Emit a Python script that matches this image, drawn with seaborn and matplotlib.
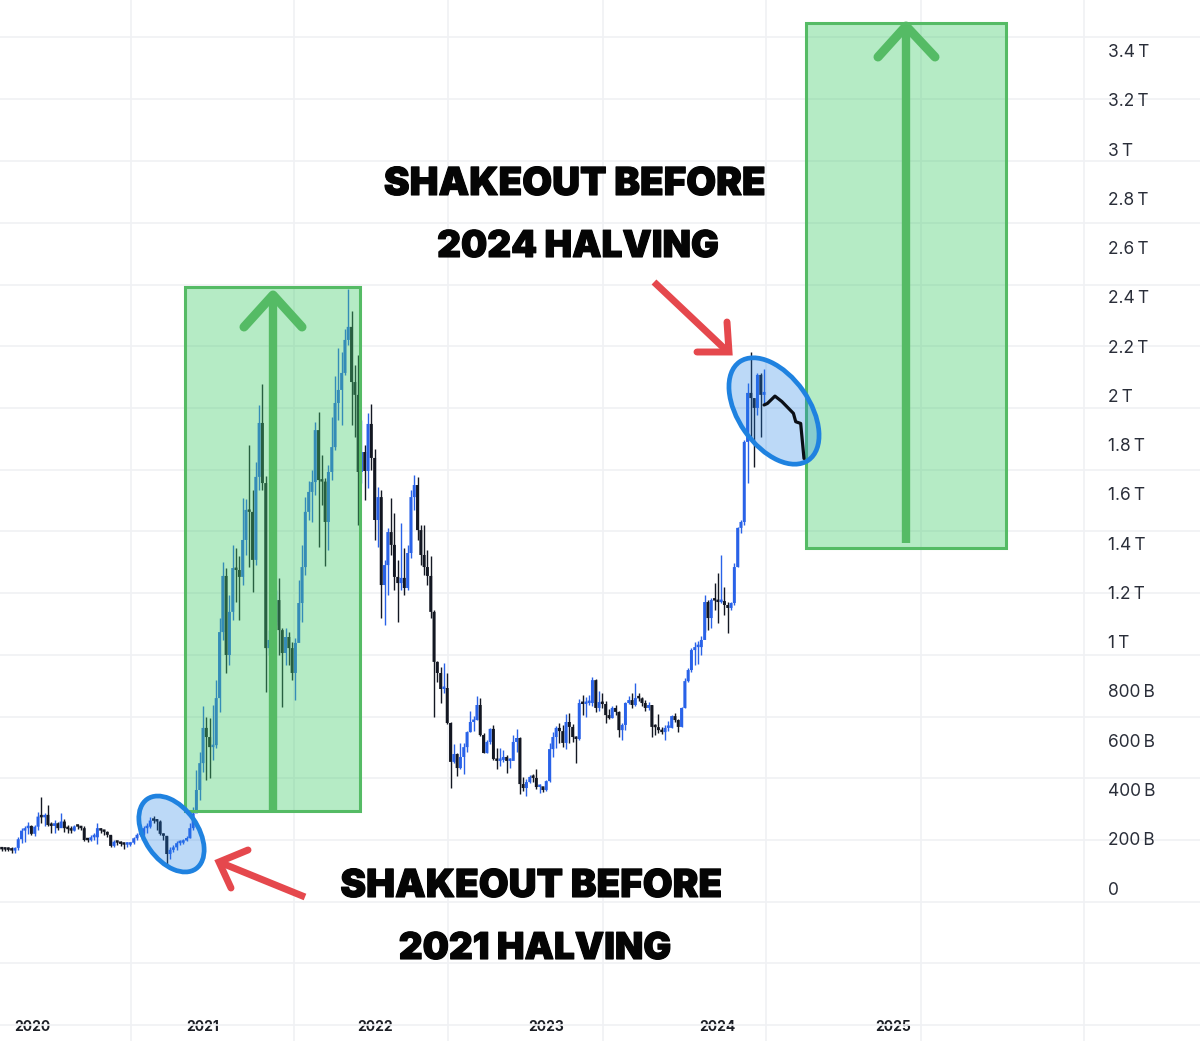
import numpy as np
import pandas as pd
import matplotlib
matplotlib.use("Agg")
import matplotlib.pyplot as plt
import matplotlib.patheffects as pe
from matplotlib.patches import Rectangle, Ellipse
import seaborn as sns

# weekly candles, market cap in billions
closes = [
    157,156,155,152,163,198,233,243,252,220,
    249,290,287,297,256,252,263,243,270,243,
    239,233,250,249,243,195,194,206,206,243,
    233,228,216,171,188,184,179,176,176,184,
    202,216,222,243,249,274,273,270,220,212,
    138,155,165,182,184,193,202,243,303,
    398,507,650,613,572,580,771,1039,1267,946,
    1121,1299,1291,1263,1413,1535,1527,1332,1669,1888,
    1644,974,1007,1080,1169,1047,954,1019,974,873,
    995,1157,1303,1527,1608,1648,1859,1656,1650,1486,
    1689,1790,1969,2022,2091,2225,2278,2054,2002,1689,
    1770,1693,1884,1746,1494,1587,1230,1311,1445,1393,
    1263,1238,1259,1218,1360,1587,1636,1453,1352,1303,
    1267,1121,918,
    873,808,812,670,512,544,487,532,572,633,
    674,682,743,621,548,593,646,524,516,520,
    532,516,516,593,609,422,406,430,451,447,
    410,413,398,434,564,613,650,637,589,674,
    654,613,605,751,747,751,751,844,731,755,
    747,702,690,731,715,641,662,751,763,743,
    771,770,751,731,743,654,653,641,633,650,
    650,698,682,654,731,840,885,966,978,978,
    1007,1161,1096,1169,1167,1161,1165,1149,1137,1157,
    1303,1462,1486,1811,2010,1989,1949,2083,2002,2014,
]
highs = [
    165,164,165,165,168,206,243,250,270,256,
    256,310,371,303,337,270,275,268,305,280,
    256,250,255,256,252,250,205,215,222,262,
    245,236,232,216,196,192,190,182,185,188,
    208,222,228,250,262,290,292,282,276,225,
    212,165,175,190,195,200,210,262,330,
    479,552,739,694,690,743,844,1096,1324,1299,
    1190,1393,1380,1348,1583,1579,1799,1616,1730,1961,
    2046,1673,1047,1129,1210,1259,1056,1056,1039,999,
    1015,1250,1393,1587,1652,1697,1892,1933,1758,1665,
    1717,1912,2079,2192,2176,2270,2432,2343,2123,2164,
    1900,1799,1928,1965,1782,1628,1616,1332,1462,1583,
    1523,1332,1482,1380,1393,1616,1677,1669,1474,1474,
    1372,1348,1129,
    922,897,913,873,674,585,548,589,589,637,
    719,698,780,771,629,601,650,662,568,568,
    560,540,528,621,646,613,451,443,459,463,
    483,422,410,438,589,633,658,670,662,706,
    710,666,617,767,784,775,784,857,849,800,
    792,759,727,739,743,719,670,755,780,792,
    832,792,775,763,755,743,666,706,654,662,
    678,702,710,686,735,853,893,974,999,1003,
    1023,1190,1169,1177,1238,1279,1352,1222,1161,1161,
    1320,1466,1494,1819,2050,2176,1989,2091,2091,2107,
]
lows = [
    152,151,150,144,144,155,182,188,220,214,
    212,236,262,250,250,225,225,235,248,228,
    225,222,230,240,235,190,186,190,196,178,
    225,215,208,165,165,175,172,160,165,170,
    180,195,210,215,225,245,262,235,215,195,
    95,118,145,155,175,178,190,205,235,
    325,357,471,438,447,520,568,715,1007,873,
    905,1088,1161,1088,1230,1352,1303,1202,1312,1616,
    1616,796,946,1007,1068,946,735,905,905,844,
    763,1088,1080,1271,1494,1486,1596,1384,1555,1307,
    1372,1656,1778,1900,1880,2083,2205,1880,1831,1474,
    1644,1575,1624,1697,1413,1384,1096,1068,1190,1352,
    1210,1080,1210,1190,1210,1340,1535,1413,1311,1271,
    1230,1096,694,
    836,751,792,666,406,507,455,483,463,552,
    633,637,682,617,548,548,585,520,483,495,
    512,467,487,524,552,382,394,374,426,430,
    402,386,390,394,430,532,568,589,572,564,
    589,593,507,601,702,694,743,739,715,719,
    731,670,686,690,702,613,601,641,747,731,
    739,759,739,719,723,613,621,629,625,601,
    637,650,674,633,654,731,836,877,905,909,
    946,1039,1047,1056,1129,1076,1157,1108,1035,1129,
    1149,1303,1441,1474,1644,1819,1709,1920,1831,1969,
]
first_open = 158

# the last stretch is a plain line, not candles
tail_weeks = [231.0, 232.0, 234.3, 236.4, 239.9, 240.6, 242.1, 243.1]
tail_values = [1961, 1967, 1997, 1975, 1927, 1893, 1886, 1744]

year_weeks = [9.2, 61, 113, 165, 217, 270]
year_labels = ["2020", "2021", "2022", "2023", "2024", "2025"]
price_ticks = [0, 200, 400, 600, 800, 1000, 1200, 1400, 1600, 1800, 2000, 2200,
               2400, 2600, 2800, 3000, 3200, 3400]
price_labels = ["0", "200\u2009B", "400\u2009B", "600\u2009B", "800\u2009B", "1\u2009T",
                "1.2\u2009T", "1.4\u2009T", "1.6\u2009T", "1.8\u2009T", "2\u2009T", "2.2\u2009T",
                "2.4\u2009T", "2.6\u2009T", "2.8\u2009T", "3\u2009T", "3.2\u2009T", "3.4\u2009T"]
grid_weeks = [39.2, 88.6, 135.2, 182.2, 231.6, 278.6, 328]
grid_values = [-556, -304, -57, 195, 447, 694, 946, 1198, 1449, 1697, 1949, 2201,
               2448, 2700, 2952, 3203, 3455]

sns.set_theme(style="white")
plt.rcParams["font.family"] = ["Inter", "DejaVu Sans"]

df = pd.DataFrame({"close": closes, "high": highs, "low": lows})
df["week"] = np.arange(len(df))
df["open"] = df["close"].shift(1).fillna(first_open)
df["up"] = df["close"] >= df["open"]
df["color"] = df["up"].map({True: "#2962e8", False: "#131722"})
df["bottom"] = df[["open", "close"]].min(axis=1)
df["height"] = (df["close"] - df["open"]).abs().clip(lower=10)

fig = plt.figure(figsize=(12, 10.41), dpi=100)
ax = fig.add_axes([0, 0, 1, 1])
ax.set_xlim(-0.515, 363.1)
ax.set_ylim(-621, 3605)

# grid on the major ticks, labels on the minor ones so they draw over the lines
ax.set_xticks(grid_weeks)
ax.set_yticks(grid_values)
ax.set_xticklabels([])
ax.set_yticklabels([])
ax.grid(True, which="major", color="#f0f1f4", lw=1.2, zorder=0)
ax.set_axisbelow(True)

ax.vlines(df["week"], df["low"], df["high"], colors=df["color"], lw=1.0, zorder=2)
ax.bar(df["week"], df["height"], bottom=df["bottom"], width=0.9, color=df["color"],
       linewidth=0, zorder=3, snap=False)

ax.set_xticks(year_weeks, minor=True)
ax.set_xticklabels(year_labels, minor=True, fontsize=10, fontweight="bold", color="#1c1f26")
ax.set_yticks(price_ticks, minor=True)
ax.set_yticklabels(price_labels, minor=True, fontsize=12.5, color="#2a2e39")
ax.yaxis.tick_right()
ax.tick_params(axis="y", which="both", length=0, pad=-66)
ax.tick_params(axis="x", which="both", length=0, pad=-15)
for side in ax.spines.values():
    side.set_visible(False)

# drawn annotations sit on top, placed in picture pixels
over = fig.add_axes([0, 0, 1, 1])
over.set_xlim(0, 1200)
over.set_ylim(1041, 0)
over.axis("off")
over.patch.set_alpha(0)

green = "#55bb65"
boxes = [(185, 287, 175, 524), (806, 23, 200, 525)]
for left, top, w, h in boxes:
    over.add_patch(Rectangle((left, top), w, h, facecolor=(70/255, 205/255, 110/255, 0.4),
                             edgecolor=green, lw=2.2, zorder=4))

up_arrows = [(273, 811, 295, 244, 302, 327), (906, 543, 26, 878, 935, 57)]
for x, y0, y1, bl, br, by in up_arrows:
    over.plot([x, x], [y0, y1 + 4], color=green, lw=6, solid_capstyle="butt", zorder=5)
    over.plot([bl, x, br], [by, y1, by], color=green, lw=6.5, solid_capstyle="round",
              solid_joinstyle="round", zorder=5)

for cx, cy, a, b in [(171.5, 834, 85, 53), (774, 411, 120, 71)]:
    over.add_patch(Ellipse((cx, cy), a, b, angle=55, facecolor=(33/255, 130/255, 230/255, 0.3),
                           edgecolor="#1f82e0", lw=3.4, zorder=6))

# tail line stays dark over the ellipse
tail_ax = fig.add_axes([0, 0, 1, 1], sharex=ax, sharey=ax)
tail_ax.axis("off")
tail_ax.patch.set_alpha(0)
sns.lineplot(x=tail_weeks, y=tail_values, color="#0b0f16", lw=2.3, ax=tail_ax)

red = "#e5484d"
red_arrows = [
    ((305, 897), (219, 862), [(248, 850), (219, 862), (231, 888)]),
    ((654, 282), (728, 352), [(697, 352), (729, 352), (727, 322)]),
]
for start, tip, head in red_arrows:
    over.plot([start[0], tip[0]], [start[1], tip[1]], color=red, lw=5,
              solid_capstyle="butt", zorder=7)
    over.plot(*zip(*head), color=red, lw=5, solid_capstyle="round",
              solid_joinstyle="miter", zorder=7)

notes = [("SHAKEOUT BEFORE", 574.5, 185, 27.8), ("2024 HALVING", 578, 247, 26.6),
         ("SHAKEOUT BEFORE", 531, 887, 27.8), ("2021 HALVING", 535, 949, 26.6)]
for label, x, y, size in notes:
    over.text(x, y, label, ha="center", va="center", fontsize=size, fontweight=900,
              color="#050505", zorder=8,
              path_effects=[pe.withStroke(linewidth=0.8, foreground="#050505")])

fig.savefig("out.png", dpi=100)
